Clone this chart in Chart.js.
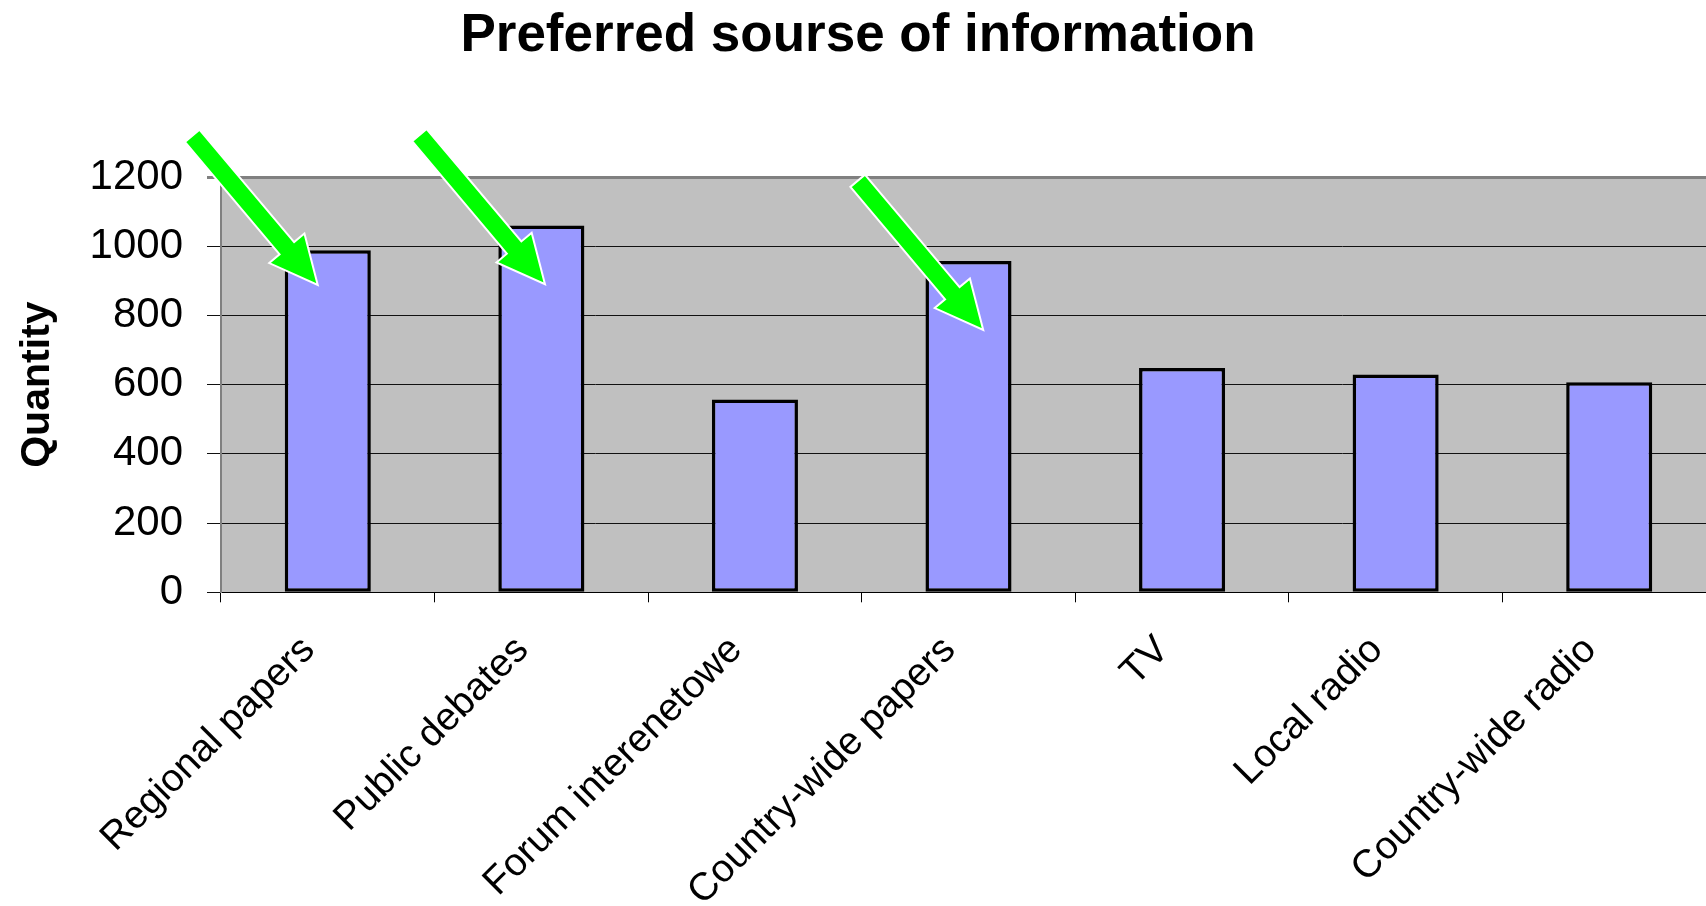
<!DOCTYPE html>
<html>
<head>
<meta charset="utf-8">
<script src="https://cdn.jsdelivr.net/npm/chart.js@4"></script>
<style>
  html, body { margin: 0; padding: 0; background: #ffffff; overflow: hidden; }
  #wrap { width: 1706px; height: 906px; overflow: hidden; }
  canvas { display: block; }
</style>
</head>
<body>
<div id="wrap"><canvas id="c" width="1718" height="906"></canvas></div>
<script>
// ---- data ----
const categories = ["Regional papers", "Public debates", "Forum interenetowe", "Country-wide papers", "TV", "Local radio", "Country-wide radio"];
const quantities = [988, 1060, 557, 957, 648, 629, 607];
const yTicks = [0, 200, 400, 600, 800, 1000, 1200];
const chartTitle = "Preferred sourse of information";
const yTitle = "Quantity";

// arrow annotations: category index, offset inside category, value of the tip
const arrowCategory = [0, 1, 3];
const arrowShift = [-0.047, 0.017, 0.069];
const arrowTipValue = [888, 890, 758];

const FONT = "'Liberation Sans', Arial, Helvetica, sans-serif";

const plotBg = {
  id: 'plotBg',
  beforeDraw(chart) {
    const { ctx, chartArea: a } = chart;
    ctx.save();
    ctx.fillStyle = '#C0C0C0';
    ctx.fillRect(a.left, a.top, a.right - a.left, a.bottom - a.top);
    ctx.restore();
  }
};

const arrows = {
  id: 'arrows',
  afterDraw(chart) {
    const { ctx } = chart;
    const xs = chart.scales.x, ys = chart.scales.y;
    const catW = (xs.getPixelForValue(1) - xs.getPixelForValue(0));
    const len = 195, headLen = 48, headHalf = 23, shaftHalf = 9.5;
    const ux = 0.644, uy = 0.765;      // direction of the arrow (towards tip)
    const nx = 0.765, ny = -0.644;     // perpendicular
    ctx.save();
    for (let i = 0; i < arrowCategory.length; i++) {
      const tx = xs.getPixelForValue(arrowCategory[i]) + arrowShift[i] * catW;
      const ty = ys.getPixelForValue(arrowTipValue[i]);
      const P = (a, b) => [tx + a * ux + b * nx, ty + a * uy + b * ny];
      const pts = [
        P(0, 0),
        P(-headLen, headHalf),
        P(-headLen, shaftHalf),
        P(-len, shaftHalf),
        P(-len, -shaftHalf),
        P(-headLen, -shaftHalf),
        P(-headLen, -headHalf)
      ];
      ctx.beginPath();
      ctx.moveTo(pts[0][0], pts[0][1]);
      for (let k = 1; k < pts.length; k++) ctx.lineTo(pts[k][0], pts[k][1]);
      ctx.closePath();
      ctx.fillStyle = '#00FF00';
      ctx.fill();
      ctx.lineWidth = 2;
      ctx.strokeStyle = '#FFFFFF';
      ctx.lineJoin = 'miter';
      ctx.stroke();
    }
    ctx.restore();
  }
};

new Chart(document.getElementById('c'), {
  type: 'bar',
  data: {
    labels: categories,
    datasets: [{
      data: quantities,
      backgroundColor: '#9999FF',
      borderColor: '#000000',
      borderWidth: 3.5,
      borderSkipped: false,
      categoryPercentage: 1.0,
      barPercentage: 0.403
    }]
  },
  options: {
    responsive: false,
    animation: false,
    devicePixelRatio: 1,
    layout: { padding: { left: 0, right: 2, top: 0, bottom: 0 } },
    plugins: {
      legend: { display: false },
      tooltip: { enabled: false },
      title: {
        display: true,
        text: chartTitle,
        color: '#000000',
        font: { family: FONT, size: 53, weight: 'bold', lineHeight: 1.2 },
        padding: { top: 5, bottom: 108.4 }
      }
    },
    scales: {
      x: {
        afterFit(scale) { scale.height = 313.7; },
        grid: {
          display: true,
          drawOnChartArea: false,
          drawTicks: true,
          tickLength: 10,
          color: '#000000',
          offset: true
        },
        border: { display: true, color: '#000000', width: 1 },
        ticks: {
          color: '#000000',
          font: { family: FONT, size: 39 },
          minRotation: 45,
          maxRotation: 45,
          autoSkip: false,
          padding: 25,
          labelOffset: -19
        }
      },
      y: {
        min: 0,
        max: 1200,
        afterFit(scale) { scale.width = 221; },
        afterBuildTicks(scale) { scale.ticks = yTicks.map(v => ({ value: v })); },
        grid: {
          color: ctx => (ctx.tick && ctx.tick.value === 1200) ? '#808080' : '#111111',
          lineWidth: ctx => (ctx.tick && ctx.tick.value === 1200) ? 3 : 1,
          tickLength: 14,
          drawTicks: true
        },
        border: { display: true, color: '#808080', width: 2 },
        ticks: {
          color: '#000000',
          font: { family: FONT, size: 42 },
          padding: 24,
          callback: v => String(v)
        },
        title: {
          display: true,
          text: yTitle,
          color: '#000000',
          font: { family: FONT, size: 41, weight: 'bold', lineHeight: 1.2 },
          padding: { top: 13.5, bottom: 0 }
        }
      }
    }
  },
  plugins: [plotBg, arrows]
});
</script>
</body>
</html>
